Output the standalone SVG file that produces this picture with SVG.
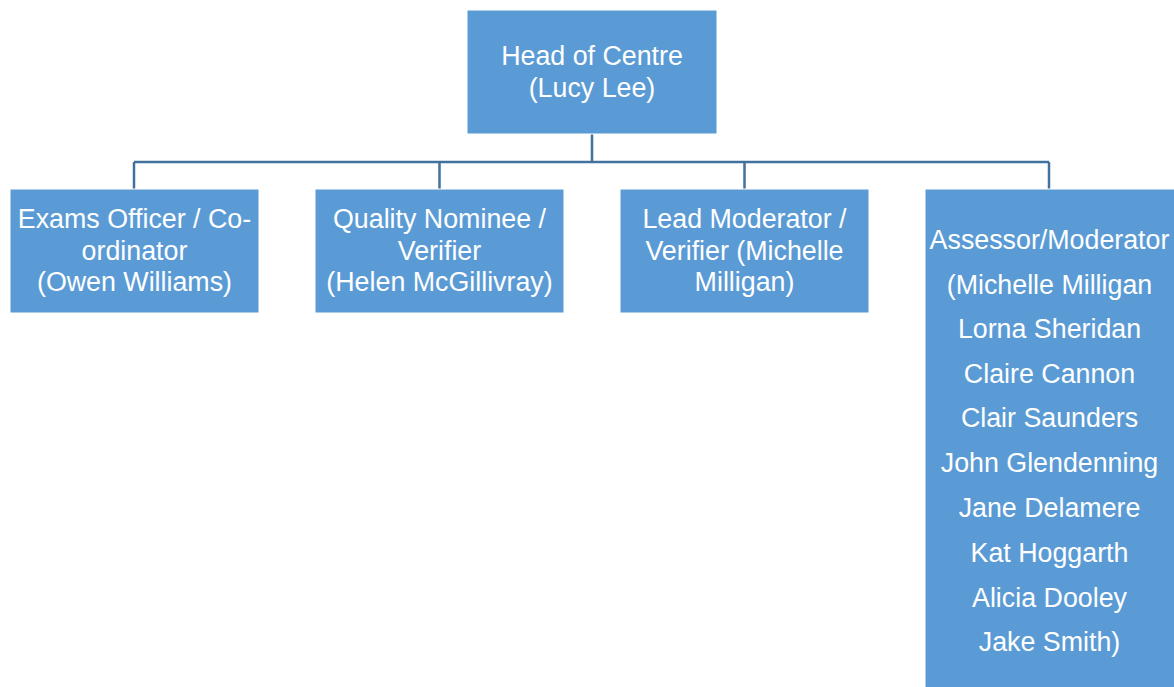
<svg xmlns="http://www.w3.org/2000/svg" width="1174" height="687" viewBox="0 0 1174 687">
<style>
.box{fill:#5B9BD5;stroke:#ffffff;stroke-width:1}
.t{font-family:"Liberation Sans",Arial,sans-serif;font-size:26.8px;fill:#ffffff;text-anchor:middle}
.c{fill:none;stroke:#41719C;stroke-width:2.5}
</style>
<rect width="1174" height="687" fill="#ffffff"/>
<g id="connectors">
<path class="c" d="M592 134V162M134 162H1049M134 162V189M439.5 162V189M744.5 162V189M1049 162V189"/>
</g>
<g id="head">
<rect class="box" x="467" y="10" width="250" height="124"/>
<text class="t" x="592" y="65">Head of Centre</text>
<text class="t" x="592" y="97">(Lucy Lee)</text>
</g>
<g id="exams">
<rect class="box" x="10" y="189" width="249" height="124"/>
<text class="t" x="134.5" y="228">Exams Officer / Co-</text>
<text class="t" x="134.5" y="260">ordinator</text>
<text class="t" x="134.5" y="291">(Owen Williams)</text>
</g>
<g id="quality">
<rect class="box" x="315" y="189" width="249" height="124"/>
<text class="t" x="439.5" y="228">Quality Nominee /</text>
<text class="t" x="439.5" y="260">Verifier</text>
<text class="t" x="439.5" y="291">(Helen McGillivray)</text>
</g>
<g id="lead">
<rect class="box" x="620" y="189" width="249" height="124"/>
<text class="t" x="744.5" y="228">Lead Moderator /</text>
<text class="t" x="744.5" y="260">Verifier (Michelle</text>
<text class="t" x="744.5" y="291">Milligan)</text>
</g>
<g id="assessor">
<rect class="box" x="925" y="189" width="250" height="499"/>
<text class="t" x="1049.5" y="249">Assessor/Moderator</text>
<text class="t" x="1049.5" y="294">(Michelle Milligan</text>
<text class="t" x="1049.5" y="338">Lorna Sheridan</text>
<text class="t" x="1049.5" y="383">Claire Cannon</text>
<text class="t" x="1049.5" y="427">Clair Saunders</text>
<text class="t" x="1049.5" y="472">John Glendenning</text>
<text class="t" x="1049.5" y="517">Jane Delamere</text>
<text class="t" x="1049.5" y="562">Kat Hoggarth</text>
<text class="t" x="1049.5" y="607">Alicia Dooley</text>
<text class="t" x="1049.5" y="651">Jake Smith)</text>
</g>
</svg>
